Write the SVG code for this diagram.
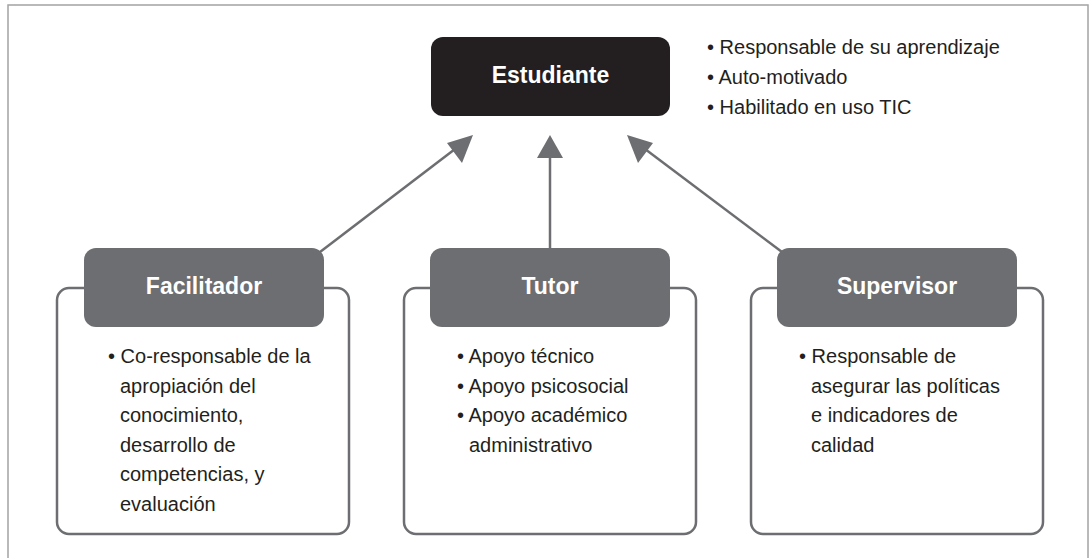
<svg xmlns="http://www.w3.org/2000/svg" width="1090" height="558" viewBox="0 0 1090 558">
  <defs>
    <style>
      .frame { fill: #ffffff; stroke: #a3a3a3; stroke-width: 1.5; }
      .body { fill: #ffffff; stroke: #6d6e71; stroke-width: 2.5; }
      .head { fill: #6d6e71; }
      .top { fill: #231f20; }
      .ht { font-family: "Liberation Sans", Arial, sans-serif; font-weight: bold; font-size: 23px; fill: #ffffff; text-anchor: middle; }
      .bt { font-family: "Liberation Sans", Arial, sans-serif; font-size: 20px; fill: #231f20; }
      .rt { font-family: "Liberation Sans", Arial, sans-serif; font-size: 20px; fill: #231f20; }
      .conn { stroke: #6d6e71; stroke-width: 2.5; fill: none; }
    </style>
    <marker id="arr" viewBox="0 0 12 12" refX="11" refY="6" markerWidth="10" markerHeight="10" markerUnits="userSpaceOnUse" orient="auto">
      <path d="M0,0 L12,6 L0,12 z" fill="#6d6e71"/>
    </marker>
  </defs>

  <rect class="frame" x="8" y="5" width="1080" height="560"/>

  <g id="connectors">
    <line class="conn" x1="320" y1="252" x2="459" y2="146"/>
    <polygon points="473,135 447,143 462,163" fill="#6d6e71"/>
    <line class="conn" x1="550" y1="248" x2="550" y2="155"/>
    <polygon points="550,135 537,158 563,158" fill="#6d6e71"/>
    <line class="conn" x1="782" y1="252" x2="641" y2="146"/>
    <polygon points="627,135 638,163 653,143" fill="#6d6e71"/>
  </g>

  <g id="estudiante">
    <rect class="top" x="431" y="37" width="239" height="79" rx="12"/>
    <text class="ht" x="550.5" y="83">Estudiante</text>
  </g>

  <g id="estudiante-rasgos">
    <text class="rt" x="707" y="54">• Responsable de su aprendizaje</text>
    <text class="rt" x="707" y="84">• Auto-motivado</text>
    <text class="rt" x="707" y="114">• Habilitado en uso TIC</text>
  </g>

  <g id="facilitador">
    <rect class="body" x="57" y="288" width="292" height="246" rx="12"/>
    <rect class="head" x="84" y="248" width="240" height="79" rx="12"/>
    <text class="ht" x="204" y="294">Facilitador</text>
    <text class="bt" x="108" y="363">• Co-responsable de la</text>
    <text class="bt" x="120" y="392.5">apropiación del</text>
    <text class="bt" x="120" y="422">conocimiento,</text>
    <text class="bt" x="120" y="451.5">desarrollo de</text>
    <text class="bt" x="120" y="481">competencias, y</text>
    <text class="bt" x="120" y="510.5">evaluación</text>
  </g>

  <g id="tutor">
    <rect class="body" x="404" y="288" width="292" height="246" rx="12"/>
    <rect class="head" x="430" y="248" width="240" height="79" rx="12"/>
    <text class="ht" x="550" y="294">Tutor</text>
    <text class="bt" x="457" y="363">• Apoyo técnico</text>
    <text class="bt" x="457" y="392.5">• Apoyo psicosocial</text>
    <text class="bt" x="457" y="422">• Apoyo académico</text>
    <text class="bt" x="469" y="451.5">administrativo</text>
  </g>

  <g id="supervisor">
    <rect class="body" x="751" y="288" width="292" height="246" rx="12"/>
    <rect class="head" x="777" y="248" width="240" height="79" rx="12"/>
    <text class="ht" x="897" y="294">Supervisor</text>
    <text class="bt" x="799" y="363">• Responsable de</text>
    <text class="bt" x="811" y="392.5">asegurar las políticas</text>
    <text class="bt" x="811" y="422">e indicadores de</text>
    <text class="bt" x="811" y="451.5">calidad</text>
  </g>
</svg>
